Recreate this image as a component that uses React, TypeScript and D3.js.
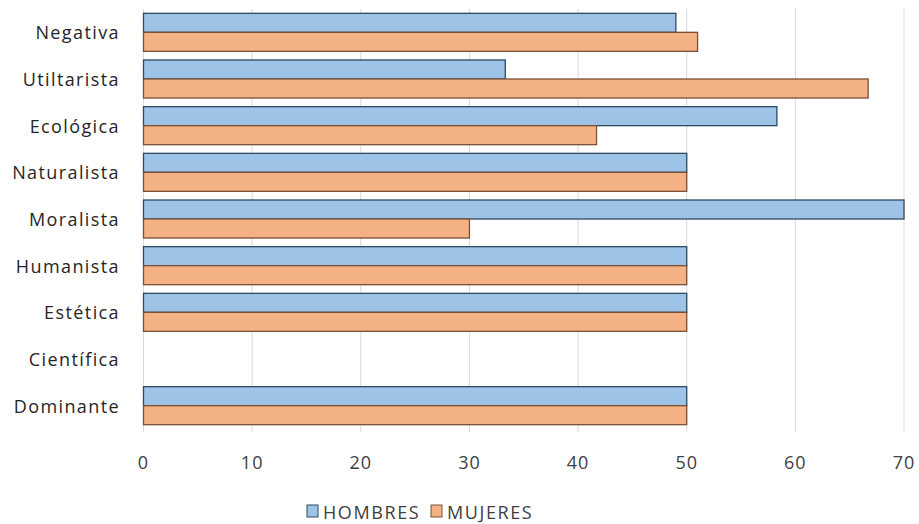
import React from "react";
import * as d3 from "d3";

const categories = ["Negativa", "Utiltarista", "Ecológica", "Naturalista", "Moralista", "Humanista", "Estética", "Científica", "Dominante"];
const hombres = [49, 33.3, 58.3, 50, 70, 50, 50, 0, 50];
const mujeres = [51, 66.7, 41.7, 50, 30, 50, 50, 0, 50];
const xTicks = [0, 10, 20, 30, 40, 50, 60, 70];
const seriesNames = ["HOMBRES", "MUJERES"];

const W = 919, H = 524;
const M = { left: 143.5, right: 15, top: 9, bottom: 95 };
const fontFam = "'Open Sans', 'DejaVu Sans', sans-serif";

export default function App() {
  const x = d3.scaleLinear().domain([0, 70]).range([M.left, 904]);
  const y = d3.scaleBand<string>().domain(categories).range([M.top, H - M.bottom]);
  const barH = 19;
  const fills = ["#9DC3E6", "#F4B183"];
  const strokes = ["#2F4A63", "#7A5038"];
  const series = [hombres, mujeres];
  return (
    <svg width={W} height={H} style={{ position: "absolute", left: 0, top: 0, background: "#fff" }}>
      {xTicks.map((t) => (
        <line key={"g" + t} x1={x(t)} x2={x(t)} y1={M.top} y2={H - M.bottom + 3} stroke="#D9D9D9" strokeWidth={1} />
      ))}
      {categories.map((c, i) => {
        const cy = y(c)! + y.bandwidth() / 2;
        return (
          <g key={c}>
            {series.map((s, k) =>
              s[i] > 0 ? (
                <rect key={k} x={x(0)} y={cy - barH + k * barH} width={x(s[i]) - x(0)} height={barH}
                  fill={fills[k]} stroke={strokes[k]} strokeWidth={1.3} />
              ) : null
            )}
            <text x={120} y={cy} textAnchor="end" dominantBaseline="central" fontFamily={fontFam}
              fontSize={18} letterSpacing={1.4} fill="#262626">{c}</text>
          </g>
        );
      })}
      {xTicks.map((t) => (
        <text key={"t" + t} x={x(t)} y={462} textAnchor="middle" dominantBaseline="central" fontFamily={fontFam}
          fontSize={18} letterSpacing={1} fill="#404040">{t}</text>
      ))}
      {seriesNames.map((n, k) => {
        const lx = k === 0 ? 307 : 431;
        return (
          <g key={n}>
            <rect x={lx} y={505} width={11} height={12} fill={fills[k]} stroke={strokes[k]} strokeWidth={1} />
            <text x={lx + 16} y={511.5} dominantBaseline="central" fontFamily={fontFam} fontSize={18}
              letterSpacing={1.6} fill="#404040">{n}</text>
          </g>
        );
      })}
    </svg>
  );
}
